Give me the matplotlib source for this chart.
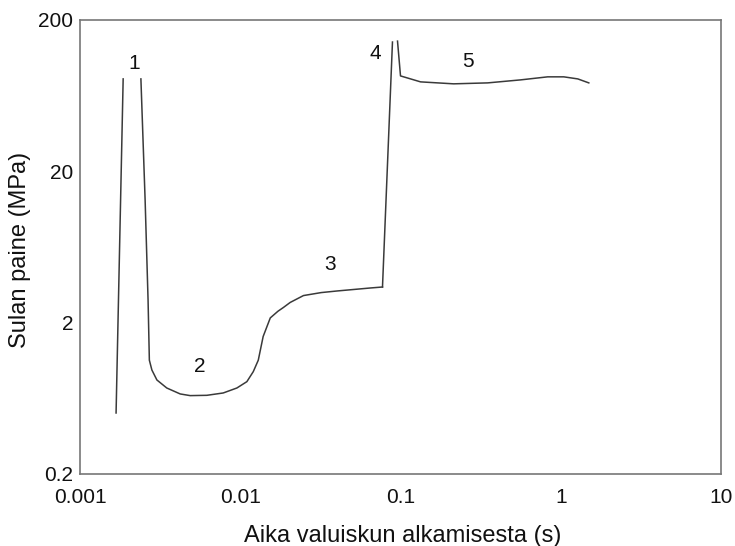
import numpy as np
import matplotlib.pyplot as plt

plt.rcParams['font.family'] = ['Liberation Sans', 'DejaVu Sans']

# Vaihe 1: nousu (huippu katkaistu)
rise_t = [0.00168, 0.00186]
rise_p = [0.506, 81.6]

# Vaihe 1 -> 2 -> 3: lasku, täyttö ja tiivistys
fall_t = [0.0024, 0.00255, 0.00266, 0.00271, 0.00281, 0.00302, 0.00348, 0.00422,
          0.00487, 0.00619, 0.00783, 0.00953, 0.0110, 0.01206, 0.01296, 0.0139,
          0.0154, 0.0172, 0.0186, 0.0205, 0.0248, 0.0320, 0.0404, 0.065, 0.0772]
fall_p = [81.6, 12.9, 2.83, 1.13, 0.973, 0.836, 0.74, 0.676,
          0.659, 0.662, 0.686, 0.74, 0.815, 0.949, 1.13, 1.62,
          2.15, 2.38, 2.52, 2.72, 3.02, 3.16, 3.24, 3.39, 3.44]

# Vaihe 4: jälkipaine nousee
jump_t = [0.0772, 0.0891]
jump_p = [3.44, 143]

# Vaihe 5: pitopaine
hold_t = [0.0958, 0.1, 0.1334, 0.2145, 0.35, 0.562, 0.829, 1.044, 1.277, 1.496]
hold_p = [145, 85.4, 78, 75.7, 76.8, 80.4, 84.2, 84.2, 81.6, 76.8]

phase_labels = ['1', '2', '3', '4', '5']
label_t = [0.00217, 0.00562, 0.0365, 0.0698, 0.262]
label_p = [103, 1.02, 4.81, 121, 106]

fig = plt.figure(figsize=(7.35, 5.46), dpi=100)
ax = fig.add_axes([0.1088, 0.1319, 0.8722, 0.8315])

col = '#3a3a3a'
for t, p in [(rise_t, rise_p), (fall_t, fall_p), (jump_t, jump_p), (hold_t, hold_p)]:
    ax.plot(t, p, color=col, lw=1.1)

for s, t, p in zip(phase_labels, label_t, label_p):
    ax.text(t, p, s, fontsize=15, ha='center', va='center', color='#111111')

ax.set_xscale('log')
ax.set_yscale('log')
ax.set_xlim(0.001, 10)
ax.set_ylim(0.2, 200)
ax.set_xticks([0.001, 0.01, 0.1, 1, 10])
ax.set_xticklabels(['0.001', '0.01', '0.1', '1', '10'])
ax.set_yticks([0.2, 2, 20, 200])
ax.set_yticklabels(['0.2', '2', '20', '200'])
ax.minorticks_off()
ax.tick_params(length=0, labelsize=15, colors='#111111')
ax.tick_params(axis='x', pad=10)
ax.tick_params(axis='y', pad=5)

for sp in ax.spines.values():
    sp.set_color('#777777')
    sp.set_linewidth(1.2)

fig.text(0.548, 0.0183, 'Aika valuiskun alkamisesta (s)', fontsize=17,
         ha='center', va='center', color='#111111')
fig.text(0.027, 0.542, 'Sulan paine (MPa)', fontsize=17, rotation=90,
         ha='center', va='center', color='#111111')

fig.savefig('out.png', dpi=100)
